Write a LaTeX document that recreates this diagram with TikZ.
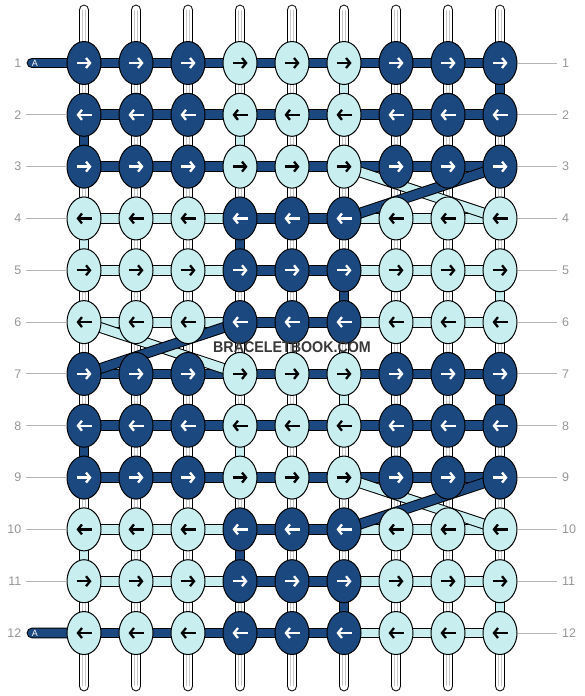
\documentclass[tikz,border=0pt]{standalone}
\usepackage{fontspec}
\setmainfont{Liberation Sans}
\usetikzlibrary{shapes.geometric,arrows.meta,backgrounds}

\definecolor{dark}{RGB}{27,72,126}
\definecolor{light}{RGB}{200,238,240}
\definecolor{lblgray}{RGB}{150,150,150}

\tikzset{
  knot/.style={ellipse, draw, line width=1pt, minimum width=34pt, minimum height=43pt, inner sep=0pt},
  knotD/.style={knot, fill=dark},
  knotL/.style={knot, fill=light},
  arw/.style={draw=#1, line width=2.3pt, -{Straight Barb[length=4pt,width=10pt]}},
  arwD/.style={arw=white},
  arwL/.style={arw=black},
  thread/.style={draw=black, line width=1pt, double=#1, double distance=8.8pt},
  warp/.style={thread=white, line cap=round},
  warpline/.style={draw=black!22, line width=1pt, double=white, double distance=2.8pt},
  rowline/.style={draw=lblgray!70, line width=1pt},
  lbl/.style={text=lblgray, font=\fontsize{12.5}{14}\selectfont, inner sep=0pt}
}

\begin{document}
\begin{tikzpicture}[x=1pt, y=-1pt]
\useasboundingbox (0,0) rectangle (584,696);

% knots
\foreach \r in {1,2,3,7,8,9} {
  \pgfmathtruncatemacro\s{1-2*mod(\r+1,2)}
  \foreach \k [count=\c] in {D,D,D,L,L,L,D,D,D} {
    \node[knot\k] (n-\r-\c) at ({84+52*(\c-1)}, {63+51.82*(\r-1)}) {};
    \draw[arw\k] ([xshift={-7.5*\s}]n-\r-\c.center) -- ([xshift={7.5*\s}]n-\r-\c.center);
  }
}
\foreach \r in {4,5,6,10,11,12} {
  \pgfmathtruncatemacro\s{1-2*mod(\r+1,2)}
  \foreach \k [count=\c] in {L,L,L,D,D,D,L,L,L} {
    \node[knot\k] (n-\r-\c) at ({84+52*(\c-1)}, {63+51.82*(\r-1)}) {};
    \draw[arw\k] ([xshift={-7.5*\s}]n-\r-\c.center) -- ([xshift={7.5*\s}]n-\r-\c.center);
  }
}

% row numbers
\foreach \r in {1,...,12} {
  \node[lbl, anchor=east] (ll-\r) at (21.5, {63+51.82*(\r-1)}) {\r};
  \node[lbl, anchor=west] (lr-\r) at (562, {63+51.82*(\r-1)}) {\r};
  \coordinate (le-\r) at (26, {63+51.82*(\r-1)});
  \coordinate (re-\r) at (557, {63+51.82*(\r-1)});
  \draw[rowline] (n-\r-9) -- (re-\r);
}
\foreach \r in {2,...,11}
  \draw[rowline] (le-\r) -- (n-\r-1);

\node[text=white, font=\fontsize{9}{9}\selectfont] (tag-1) at (35,63) {A};
\node[text=white, font=\fontsize{9}{9}\selectfont] (tag-12) at (35,633) {A};

\node[text=black!78, font=\bfseries\fontsize{15.5}{15.5}\selectfont, xscale=.92] (mark) at (292,347) {BRACELETBOOK.COM};

\begin{scope}[on background layer]

% warp strings
\foreach \c in {1,...,9} {
  \coordinate (top-\c) at ({84+52*(\c-1)}, 10);
  \coordinate (bot-\c) at ({84+52*(\c-1)}, 686);
  \draw[warp] (top-\c) -- (bot-\c);
  \draw[warpline] (top-\c) -- (bot-\c);
}

% coloured bits of the strings
\foreach \c/\r/\h/\col in {6/1/2/light, 9/1/2/dark, 1/2/3/dark, 4/2/3/light,
                           1/4/5/light, 4/4/5/dark, 6/5/6/dark, 9/5/6/light,
                           6/7/8/light, 9/7/8/dark, 1/8/9/dark, 4/8/9/light,
                           1/10/11/light, 4/10/11/dark, 6/11/12/dark, 9/11/12/light}
  \draw[thread=\col] (n-\r-\c.center) -- (n-\h-\c.center);

% row threads
\foreach \r in {1,2,3,7,8,9}
  \draw[thread=dark] (n-\r-1.center) -- (n-\r-9.center);
\foreach \r in {4,5,6,10,11} {
  \draw[thread=light] (n-\r-1.center) -- (n-\r-9.center);
  \draw[thread=dark] (n-\r-4.center) -- (n-\r-6.center);
}
\draw[thread=light] (n-12-6.center) -- (n-12-9.center);
\draw[thread=dark] (n-12-1.center) -- (n-12-6.center);

\coordinate (a-1) at (32,63);
\coordinate (a-12) at (32,633);
\draw[thread=dark, line cap=round] (a-1) -- (n-1-1.center);
\draw[thread=dark, line cap=round] (a-12) -- (n-12-1.center);

% crossings
\draw[thread=light] (n-3-6.center) -- (n-4-9.center);
\draw[thread=dark] (n-3-9.center) -- (n-4-6.center);
\draw[thread=light] (n-6-1.center) -- (n-7-4.center);
\draw[thread=dark] (n-6-4.center) -- (n-7-1.center);
\draw[thread=light] (n-9-6.center) -- (n-10-9.center);
\draw[thread=dark] (n-9-9.center) -- (n-10-6.center);

\end{scope}

\end{tikzpicture}
\end{document}
